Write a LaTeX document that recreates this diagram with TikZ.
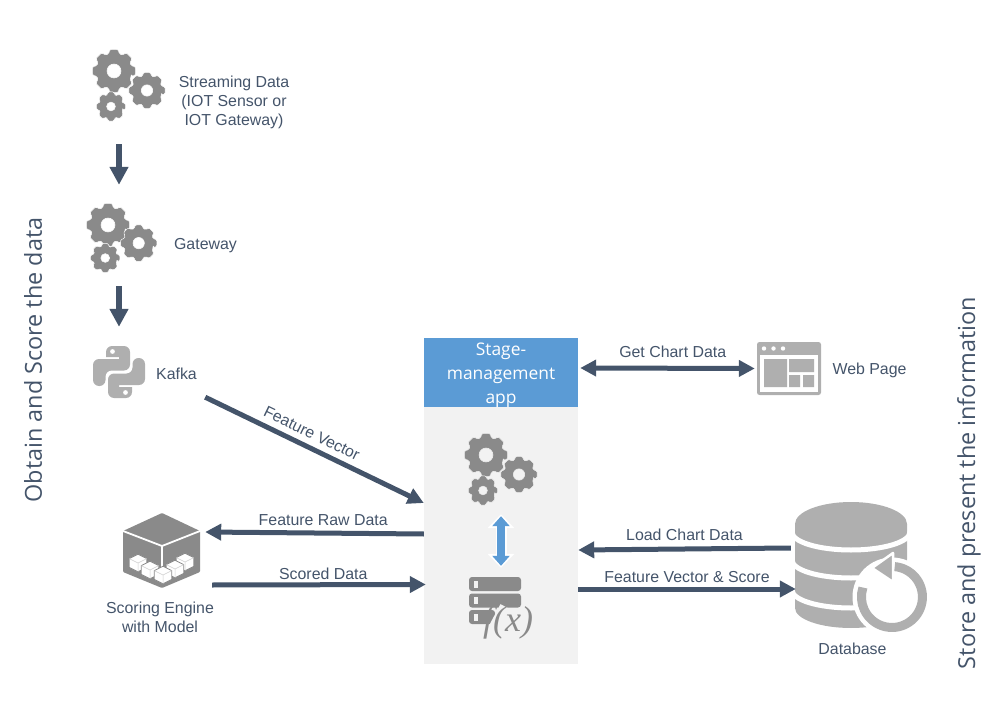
\documentclass[tikz,border=0pt]{standalone}
\usepackage{fontspec}
\setmainfont{Liberation Sans}
\newfontfamily\uifont{Open Sans}
\usetikzlibrary{arrows.meta}

\definecolor{slate}{HTML}{44546A}
\definecolor{iconA}{HTML}{8A8A8A}
\definecolor{iconB}{HTML}{AFAFAF}
\definecolor{panel}{HTML}{F2F2F2}
\definecolor{header}{HTML}{5B9BD5}

\tikzset{
  tag/.style={text=slate, font=\fontsize{15.9}{19}\selectfont, inner sep=0pt, align=center},
  side/.style={text=slate, font=\uifont\fontsize{23.4}{26}\selectfont, inner sep=0pt, rotate=90},
  iconbox/.style={inner sep=0pt, minimum width=#1},
  flow/.style={draw=slate, line width=5pt, -{Triangle[length=16pt,width=16pt]}},
  twoway/.style={draw=slate, line width=5pt, {Triangle[length=16pt,width=16pt]}-{Triangle[length=16pt,width=16pt]}},
  pics/cog/.style n args={3}{code={
    \fill[iconA, even odd rule, rounded corners=1.3pt, draw=#3, line width=0.5pt] (17:{0.82*#1})
      \foreach \a in {0,45,...,315} {
        -- ({\a+28}:{0.82*#1}) -- ({\a+34}:#1) -- ({\a+56}:#1) -- ({\a+62}:{0.82*#1})
      } -- cycle (0,0) circle (#2);
  }},
  pics/cogs/.style={code={
    \pic at (0,0) {cog={22}{7}{#1}};
    \pic at (33,19.5) {cog={18.5}{5.7}{#1}};
    \pic at (-3,35.5) {cog={15}{4.4}{#1}};
  }},
  pics/snake/.style={code={
    \foreach \turn in {0,180}{
      \fill[iconB, even odd rule, rotate=\turn] (-1,-26) [rounded corners=6pt] -- (11,-26) -- (11,-1.5) -- (-13.5,-1.5) -- (-13.5,14)
        -- (-26,14) -- (-26,-13) [sharp corners] -- (0,-13) -- (0,-15) -- (-13,-15) [rounded corners=6pt] -- (-13,-26) -- cycle
        (-6.5,-20.5) circle (2.5);
    }
  }},
  pics/minicube/.style={code={
    \filldraw[fill=white, draw=iconA, line width=0.8pt] (0,-8.8) -- (8.8,-4.4) -- (8.8,4.4) -- (0,8.8) -- (-8.8,4.4) -- (-8.8,-4.4) -- cycle;
    \draw[iconB!60, line width=0.5pt] (-8.8,-4.4) -- (0,0) -- (8.8,-4.4) (0,0) -- (0,8.8);
  }},
}

\begin{document}
\begin{tikzpicture}[x=1pt,y=-1pt]
  \useasboundingbox (0,0) rectangle (1004,703);

  % boxes the arrows attach to
  \node[iconbox=92, minimum height=100pt] (streaming) at (119,94) {};
  \node[iconbox=92, minimum height=101pt] (gateway) at (119,235.5) {};
  \node[iconbox=172, minimum height=70pt] (kafka) at (119,362) {};
  \node[iconbox=86, minimum height=80pt] (engine) at (162,550) {};
  \node[iconbox=66, minimum height=54pt] (webpage) at (788,368.5) {};
  \node[iconbox=112, minimum height=126pt] (database) at (851,565) {};

  % stage app
  \node[fill=panel, inner sep=0pt, minimum width=154pt, minimum height=257pt] (app) at (501,535.5) {};
  \node[fill=header, inner sep=0pt, minimum width=154pt, minimum height=69pt] (stage) at (501,372.5) {};
  \node[text=white, align=center, inner sep=0pt, font=\uifont\fontsize{17.4}{24}\selectfont] (stagetext) at (501,375) {Stage-\\management\\app};
  \node[iconbox=70, minimum height=60pt] (appcogs) at (501,486) {};
  \node[iconbox=60, minimum height=70pt] (appfx) at (501,601) {};

  % gears
  \pic at (114,71) {cogs=white};
  \pic[scale=0.93] at (108,225) {cogs=white};
  \pic at (486,455) {cogs=panel};
  \pic at (119,372) {snake};

  % scoring engine
  \fill[iconA, rounded corners=1pt] (123,531) -- (162,513) -- (200,531) -- (200,572) -- (162,588) -- (123,572) -- cycle;
  \draw[white, line width=1.8pt] (123,531) -- (162,546) -- (200,531) (162,546) -- (162,568);
  \foreach \x/\y in {138/563,185/562,150/570,175/569,163/575}{
    \pic at (\x,\y) {minicube};
  }

  % f(x) on the server rack
  \foreach \y/\w in {577/52,593.5/52,610/26}{
    \fill[iconA, rounded corners=3pt] (469,\y) rectangle ++(\w,14);
    \fill[panel] (474,\y+3.5) rectangle ++(4,7);
  }
  \draw[panel, line width=8pt] (488,636) -- (504,606);
  \node[text=iconA, font=\fontspec{Liberation Serif}\itshape\fontsize{36}{36}\selectfont, inner sep=0pt] (fx) at (508,623) {f(x)};

  % web page
  \fill[iconB, rounded corners=2.5pt] (757,342) rectangle (821,395);
  \fill[white] (760,355) rectangle (818,392);
  \foreach \x in {764,773.5,783}{
    \fill[white] (\x,348.5) circle (2.2);
  }
  \fill[iconB] (764,359) rectangle (787,387) (789,359) rectangle (814,372)
    (789,375) rectangle (800,387) (803,375) rectangle (814,387);

  % database
  \fill[iconB] (795,524) -- (907,524) -- (907,608)
    arc[start angle=0, end angle=180, x radius=56, y radius=20] -- cycle;
  \fill[iconB] (851,524) ellipse (56 and 22);
  \foreach \y in {532,560,590}{
    \draw[white, line width=5pt] (792,\y) arc[start angle=180, end angle=0, x radius=59, y radius=18];
  }
  \fill[white] (892,597) circle (39.5);
  \draw[iconB, line width=9pt] (894.6,566.6) arc[start angle=-85, end angle=198, radius=30.5];
  \filldraw[fill=iconB, draw=white, line width=2.5pt, line join=round] (872,568) -- (893,553) -- (893,582) -- cycle;

  % connectors
  \draw[flow, line width=6pt, -{Triangle[length=18pt,width=18pt]}] (streaming) -- (gateway);
  \draw[flow, line width=6pt, -{Triangle[length=18pt,width=18pt]}] (gateway) -- (kafka);
  \draw[flow] (kafka.south east) -- node[tag, sloped, pos=.46, above=6pt] {Feature Vector} ([yshift=32.5pt]app.west);
  \draw[flow] ([yshift=1.5pt]app.west) -- node[tag, pos=.46, above=5pt] {Feature Raw Data} ([yshift=18pt]engine.east);
  \draw[flow] ([xshift=7pt,yshift=-35pt]engine.east) -- node[tag, pos=.52, above=2.5pt] {Scored Data} ([xshift=2pt,yshift=-49pt]app.west);
  \draw[twoway] ([xshift=2pt,yshift=4.5pt]stage.east) -- node[tag, pos=.53, above=8pt] {Get Chart Data} (webpage.west);
  \draw[flow] ([xshift=-4pt,yshift=17pt]database.west) -- node[tag, above=6pt] {Load Chart Data} ([yshift=-14.5pt]app.east);
  \draw[flow] ([yshift=-53.5pt]app.east) -- node[tag, above=4pt] {Feature Vector \& Score} ([xshift=1pt,yshift=-24pt]database.west);

  \draw[white, line width=11pt, {Triangle[length=14pt,width=26pt]}-{Triangle[length=14pt,width=26pt]}] ([yshift=2pt]appcogs.south) -- ([yshift=-2pt]appfx.north);
  \draw[header, line width=8pt, {Triangle[length=10pt,width=17pt]}-{Triangle[length=10pt,width=17pt]}] (appcogs.south) -- (appfx.north);

  % texts beside the icons
  \node[tag] (streamingtext) at (234,102) {Streaming Data\\(IOT Sensor or\\IOT Gateway)};
  \node[tag] (gatewaytext) at (205.5,246) {Gateway};
  \node[tag] (kafkatext) at (176.5,374) {Kafka};
  \node[tag] (enginetext) at (160,617) {Scoring Engine\\with Model};
  \node[tag] (webpagetext) at (869.5,370) {Web Page};
  \node[tag] (databasetext) at (852.5,649) {Database};

  \node[side] (obtain) at (33,360) {Obtain and Score the data};
  \node[side] (store) at (969,483) {Store and present the information};
\end{tikzpicture}
\end{document}
